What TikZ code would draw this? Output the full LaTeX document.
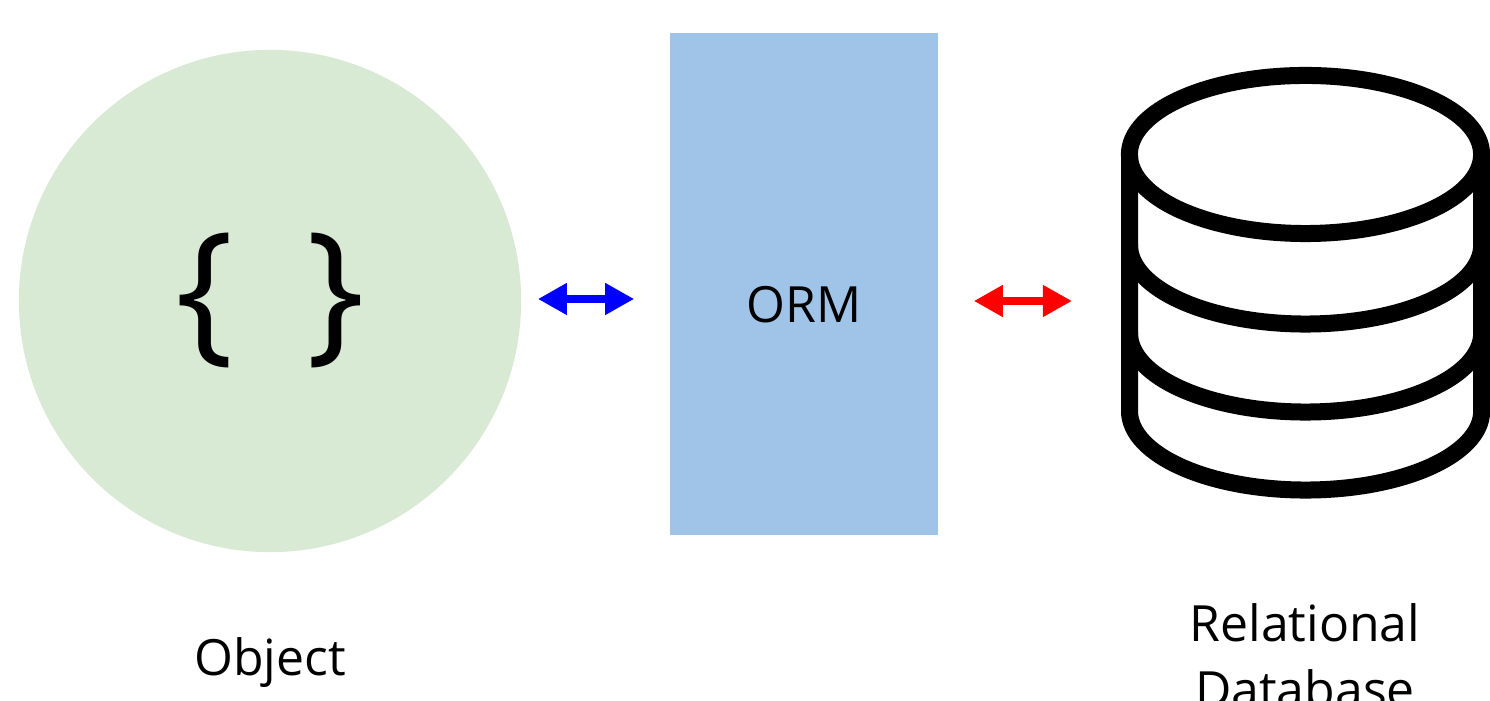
\documentclass[tikz,border=0pt]{standalone}
\usepackage{fontspec}
\setmainfont{Open Sans}
\usetikzlibrary{arrows.meta}

\tikzset{
  objcircle/.style={circle, fill=objgreen, minimum size=5.02cm, inner sep=0pt},
  ormbox/.style={rectangle, fill=ormblue, minimum width=2.68cm, minimum height=5.02cm, inner sep=0pt},
  caption/.style={font=\fontsize{14.2}{18.8}\selectfont, align=center},
  dbline/.style={line width=0.17cm, line join=round},
  linkarrow/.style={{Triangle[length=0.29cm,width=0.3cm]}-{Triangle[length=0.29cm,width=0.3cm]}, line width=0.075cm}
}
\definecolor{objgreen}{RGB}{216,233,212}
\definecolor{ormblue}{RGB}{160,196,232}

\begin{document}
\begin{tikzpicture}[x=0.01cm, y=-0.01cm]
  \useasboundingbox (0,0) rectangle (1490,701);

  \node[objcircle] (obj) at (270,301) {};
  \node[font=\fontsize{44}{48}\selectfont] (braces) at (270,301) {\{\ \hspace{0.32cm}\}};
  \node[ormbox] (orm) at (804,284) {};
  \node[font=\fontsize{14.2}{17}\selectfont] (ormtext) at (804,305) {ORM};

  \draw[dbline] (1305.5,154.5) ellipse (1.76cm and 0.79cm);
  \draw[dbline] (1129.5,154.5) -- (1129.5,411)
        arc[start angle=180, end angle=360, x radius=1.76cm, y radius=0.79cm]
        -- (1481.5,154.5);
  \draw[dbline] (1129.5,245) arc[start angle=180, end angle=360, x radius=1.76cm, y radius=0.79cm];
  \draw[dbline] (1129.5,333) arc[start angle=180, end angle=360, x radius=1.76cm, y radius=0.79cm];
  \coordinate (db) at (1121,301);

  \node[caption, anchor=base] (objlabel) at (270,676) {Object};
  \node[caption, anchor=base] (dblabel) at (1305,708) {Relational\\Database};

  \draw[linkarrow, blue] ([yshift=0.02cm]obj.east) ++(0.16cm,0) -- ([xshift=-0.35cm,yshift=0.02cm]orm.west |- obj.east);
  \draw[linkarrow, red] ([xshift=0.35cm]orm.east |- db) -- ([xshift=-0.49cm]db);
\end{tikzpicture}
\end{document}
